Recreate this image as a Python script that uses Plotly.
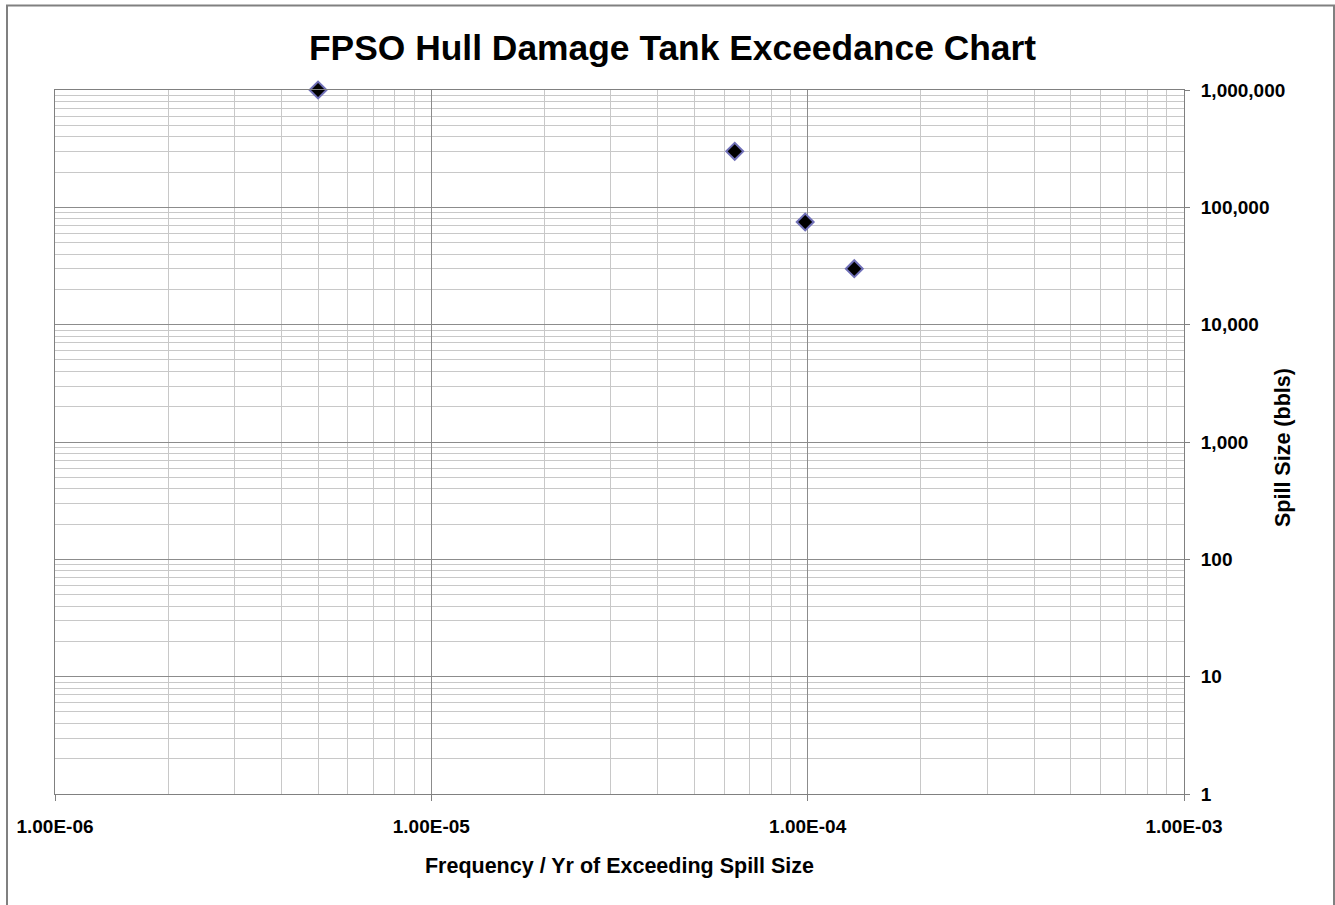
import plotly.graph_objects as go

# Data
frequency = [5.0e-6, 6.4e-5, 9.85e-5, 1.33e-4]
spill_size = [1000000, 300000, 75000, 30000]

x_tick_vals = [1e-6, 1e-5, 1e-4, 1e-3]
x_tick_text = ["1.00E-06", "1.00E-05", "1.00E-04", "1.00E-03"]
y_tick_vals = [1, 10, 100, 1000, 10000, 100000, 1000000]
y_tick_text = ["1", "10", "100", "1,000", "10,000", "100,000", "1,000,000"]

x_minor = [m * 10 ** e for e in (-6, -5, -4) for m in range(2, 10)]
y_minor = [m * 10 ** e for e in range(0, 6) for m in range(2, 10)]

FONT = "Liberation Sans, Arial, sans-serif"

W, H = 1335, 905
L, T = 55, 90
PW, PH = 1129, 704
R, B = W - L - PW, H - T - PH

def px_x(p):
    return (p - 55) / PW

def px_y(p):
    return (794 - p) / PH

fig = go.Figure()
fig.add_trace(go.Scatter(
    x=frequency, y=spill_size, mode="markers",
    marker=dict(symbol="diamond", size=13, color="#000000",
                line=dict(color="#7070b8", width=2)),
    showlegend=False, cliponaxis=False,
))

fig.update_layout(
    width=W, height=H,
    margin=dict(l=L, r=R, t=T, b=B),
    paper_bgcolor="white", plot_bgcolor="white",
    font=dict(family=FONT, color="#000000"),
    xaxis=dict(
        type="log", range=[-6, -3],
        tickvals=x_tick_vals, ticktext=x_tick_text,
        tickfont=dict(size=19, family=FONT, color="#000000", weight="bold"),
        ticks="outside", ticklen=6, tickcolor="#808080",
        ticklabelstandoff=9,
        showgrid=True, gridcolor="#8c8c8c", gridwidth=1,
        minor=dict(tickvals=x_minor, showgrid=True, gridcolor="#c8c8c8", gridwidth=1),
        showline=True, linecolor="#808080", linewidth=1, mirror=True,
        zeroline=False,
        title=dict(text="Frequency / Yr of Exceeding Spill Size",
                   font=dict(size=21.5, family=FONT, color="#000000", weight="bold"),
                   standoff=22),
    ),
    yaxis=dict(
        type="log", range=[0, 6], side="right",
        tickvals=y_tick_vals, ticktext=y_tick_text,
        tickfont=dict(size=19, family=FONT, color="#000000", weight="bold"),
        ticks="outside", ticklen=5, tickcolor="#808080",
        ticklabelstandoff=7,
        showgrid=True, gridcolor="#8c8c8c", gridwidth=1,
        minor=dict(tickvals=y_minor, showgrid=True, gridcolor="#c8c8c8", gridwidth=1),
        showline=True, linecolor="#808080", linewidth=1, mirror=True,
        zeroline=False,
    ),
    annotations=[
        dict(text="FPSO Hull Damage Tank Exceedance Chart", xref="paper", yref="paper",
             x=px_x(672), y=px_y(48), xanchor="center", yanchor="middle", showarrow=False,
             font=dict(size=35.4, family=FONT, color="#000000", weight="bold")),
        dict(text="Spill Size (bbls)", xref="paper", yref="paper", textangle=-90,
             x=px_x(1283), y=px_y(448), xanchor="center", yanchor="middle", showarrow=False,
             font=dict(size=21.5, family=FONT, color="#000000", weight="bold")),
    ],
    shapes=[dict(type="rect", xref="paper", yref="paper",
                 x0=px_x(7), x1=px_x(1334),
                 y0=px_y(925), y1=px_y(5.5),
                 line=dict(color="#808080", width=2), fillcolor="rgba(0,0,0,0)",
                 layer="above")],
)

fig.write_html("out.html", config={"displayModeBar": False},
               post_script="document.body.style.margin='0';")
